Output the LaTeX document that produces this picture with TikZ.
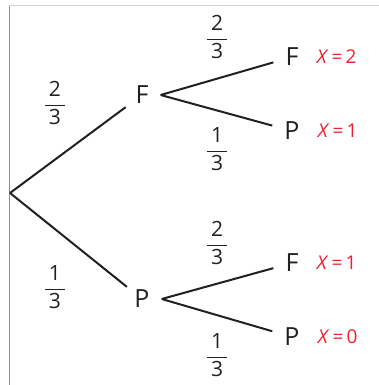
\documentclass[tikz,border=0pt]{standalone}
\usepackage{amsmath}
\usepackage{fontspec}
\setmainfont{Open Sans}
\usetikzlibrary{positioning}
\definecolor{xred}{RGB}{237,32,48}
\definecolor{ink}{RGB}{35,31,32}
\tikzset{
  st/.style={font=\fontsize{25}{27}\selectfont, text=ink, inner xsep=12pt, inner ysep=3pt},
  pr/.style={font=\fontsize{21}{23}\selectfont, text=ink, inner sep=0pt},
  xv/.style={font=\fontsize{19}{21}\selectfont, text=xred, inner sep=0pt},
  br/.style={line width=2pt, ink},
  frm/.style={line width=0.8pt},
}
\newcommand{\fr}[2]{$\genfrac{}{}{1.1pt}{0}{\kern4pt\text{#1}\kern4pt}{\kern4pt\text{#2}\kern4pt}$}

\begin{document}
\begin{tikzpicture}[x=1pt, y=-1pt]
\useasboundingbox (0,0) rectangle (379,385);

% Frame edges
\draw[frm, black!45] (9,385) -- (9,5);
\draw[frm, black!18] (9,5) -- (379,5);

% Root of the tree
\coordinate (o) at (10,193);

% Outcomes
\foreach \x/\y/\lab/\nm in {
  142/95/F/f, 142/299/P/p,
  292/57/F/ff, 292/131/P/fp, 292/263/F/pf, 292/337/P/pp} {
  \node[st] (\nm) at (\x,\y) {\lab};
}

% Branches
\draw[br] (o) -- (f);
\draw[br] (o) -- (p);
\foreach \a/\b in {f/ff, f/fp, p/pf, p/pp} {
  \draw[br] (\a.east) -- (\b);
}

% Branch probabilities
\foreach \x/\y/\n/\d/\nm in {
  55/103/2/3/qf, 55/287/1/3/qp,
  217/37/2/3/qff, 217/149/1/3/qfp, 217/243/2/3/qpf, 217/355/1/3/qpp} {
  \node[pr] (\nm) at (\x,\y) {\fr{\n}{\d}};
}

% Values of X
\foreach \nm/\v in {ff/2, fp/1, pf/1, pp/0} {
  \node[xv, right=6pt of \nm] (x\nm) {\textit{X}\,=\,\v};
}

\end{tikzpicture}
\end{document}
